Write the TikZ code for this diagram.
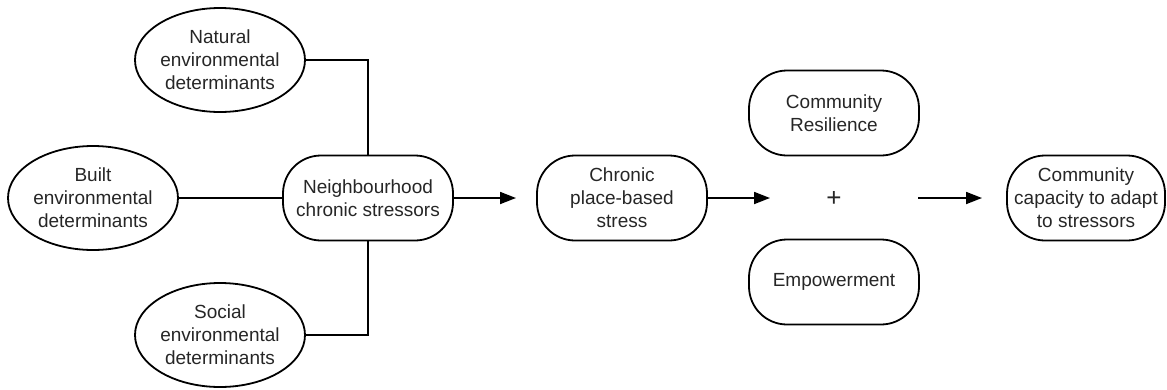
\documentclass[tikz,border=0pt]{standalone}
\usepackage{fontspec}
\setmainfont{Liberation Sans}
\usetikzlibrary{shapes.geometric,arrows.meta}
\begin{document}
\begin{tikzpicture}[x=1pt,y=-1pt,
  every node/.style={font=\fontsize{19}{23}\selectfont, text=black!85, align=center},
  oval/.style={ellipse, draw, line width=1.8pt, minimum width=170pt, minimum height=104pt, inner sep=0pt},
  pill/.style={draw, line width=1.8pt, rounded corners=38pt, minimum width=170pt, minimum height=85pt, inner sep=0pt},
  link/.style={line width=1.8pt},
  flow/.style={line width=1.8pt, -{Triangle[length=16pt,width=12pt]}}]
\useasboundingbox (0,0) rectangle (1167,389);
% determinants
\node[oval] (nat) at (220,60) {Natural\\environmental\\determinants};
\node[oval] (blt) at (93,198) {Built\\environmental\\determinants};
\node[oval] (soc) at (220,335) {Social\\environmental\\determinants};
% chain of stress
\node[pill] (nbh) at (368,198) {Neighbourhood\\chronic stressors};
\node[pill] (chr) at (622,198) {Chronic\\place-based\\stress};
\node[pill] (res) at (834,113) {Community\\Resilience};
\node[pill] (emp) at (834,282) {Empowerment};
\node (plus) at (834,199) {\fontsize{26}{26}\selectfont +};
\node[pill, minimum width=158pt] (cap) at (1086,198) {Community\\capacity to adapt\\to stressors};
% arrow end points in the open space
\coordinate (a1) at (516,198);
\coordinate (a2) at (770,198);
\coordinate (a3) at (918,198);
\coordinate (a4) at (982,198);
% connectors
\draw[link] (nat.east) -| (nbh.north);
\draw[link] (soc.east) -| (nbh.south);
\draw[link] (blt.east) -- (nbh.west);
\draw[flow] (nbh.east) -- (a1);
\draw[flow] (chr.east) -- (a2);
\draw[flow] (a3) -- (a4);
\end{tikzpicture}
\end{document}
